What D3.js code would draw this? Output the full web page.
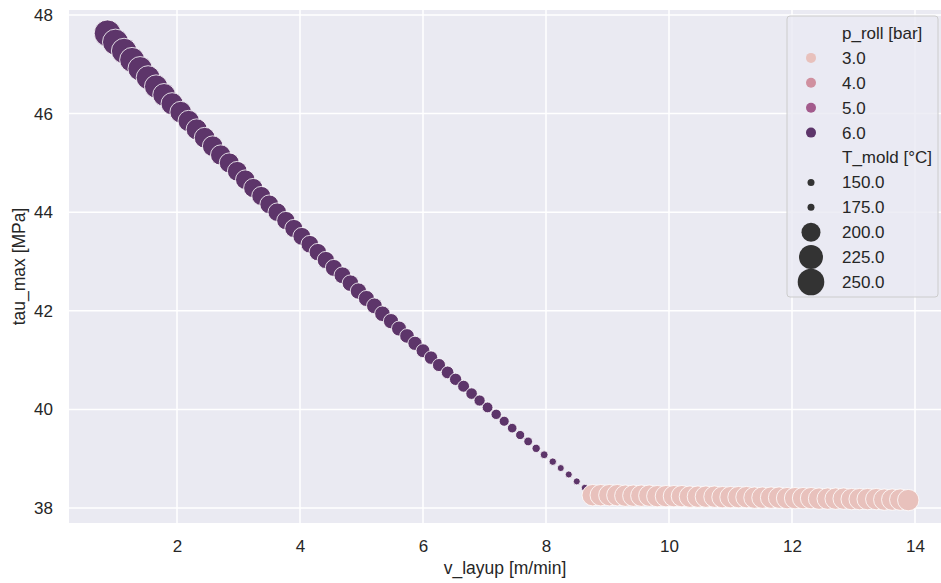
<!DOCTYPE html>
<html>
<head>
<meta charset="utf-8">
<script src="https://cdn.jsdelivr.net/npm/d3@7"></script>
<style>
  body { margin: 0; background: #fff; }
  svg text { font-family: "Liberation Sans", Arial, sans-serif; fill: #262626; }
</style>
</head>
<body>
<svg id="chart" width="941" height="583"></svg>
<script>
// optimum per layup speed
var vLayup = [0.87,1.00,1.14,1.27,1.40,1.53,1.66,1.79,1.92,2.06,
    2.19,2.32,2.45,2.58,2.71,2.85,2.98,3.11,3.24,3.37,
    3.50,3.63,3.77,3.90,4.03,4.16,4.29,4.42,4.55,4.69,
    4.82,4.95,5.08,5.21,5.34,5.48,5.61,5.74,5.87,6.00,
    6.13,6.26,6.40,6.53,6.66,6.79,6.92,7.05,7.19,7.32,
    7.45,7.58,7.71,7.84,7.97,8.11,8.24,8.37,8.50,8.63,
    8.76,8.89,9.03,9.16,9.29,9.42,9.55,9.68,9.81,9.95,
    10.08,10.21,10.34,10.47,10.60,10.74,10.87,11.00,11.13,11.26,
    11.39,11.52,11.66,11.79,11.92,12.05,12.18,12.31,12.44,12.58,
    12.71,12.84,12.97,13.10,13.23,13.37,13.50,13.63,13.76,13.89];

var tauMax = [47.63,47.45,47.27,47.09,46.91,46.73,46.55,46.38,46.20,46.03,
    45.85,45.68,45.51,45.34,45.16,45.00,44.83,44.66,44.49,44.33,
    44.16,44.00,43.83,43.67,43.51,43.35,43.19,43.03,42.87,42.72,
    42.56,42.40,42.25,42.10,41.94,41.79,41.64,41.49,41.34,41.19,
    41.05,40.90,40.75,40.61,40.47,40.32,40.18,40.04,39.90,39.76,
    39.62,39.48,39.35,39.21,39.08,38.94,38.81,38.68,38.54,38.41,
    38.26,38.26,38.26,38.26,38.25,38.25,38.25,38.25,38.24,38.24,
    38.24,38.24,38.23,38.23,38.23,38.23,38.22,38.22,38.22,38.22,
    38.21,38.21,38.21,38.21,38.20,38.20,38.20,38.20,38.19,38.19,
    38.19,38.19,38.18,38.18,38.18,38.18,38.17,38.17,38.17,38.16];

var pRoll = [6,6,6,6,6,6,6,6,6,6, 6,6,6,6,6,6,6,6,6,6,
    6,6,6,6,6,6,6,6,6,6, 6,6,6,6,6,6,6,6,6,6,
    6,6,6,6,6,6,6,6,6,6, 6,6,6,6,6,6,6,6,6,6,
    3,3,3,3,3,3,3,3,3,3, 3,3,3,3,3,3,3,3,3,3,
    3,3,3,3,3,3,3,3,3,3, 3,3,3,3,3,3,3,3,3,3];

var tMold = [250.0,244.6,239.2,234.0,228.7,224.1,221.3,218.6,215.8,213.0,
    211.7,210.4,209.1,207.8,206.5,205.2,203.9,202.6,201.3,200.0,
    199.5,199.1,198.6,198.2,197.7,197.3,196.8,196.4,195.9,195.5,
    195.0,194.5,193.9,193.3,192.8,192.2,191.7,190.9,190.1,189.3,
    188.5,187.7,186.9,186.0,185.3,184.5,183.7,182.8,182.0,181.3,
    180.4,179.5,178.6,177.7,176.8,175.9,175.0,175.0,175.0,175.0,
    212,212,212,212,212,212,212,212,212,212,
    212,212,212,212,212,212,212,212,212,212,
    212,212,212,212,212,212,212,212,212,212,
    212,212,212,212,212,212,212,212,212,212];

var hueLevels = [3.0, 4.0, 5.0, 6.0];
var hueColors = ["#e8c1bc", "#d0909f", "#a35b8c", "#5d356a"];
var sizeLevels = [150.0, 175.0, 200.0, 225.0, 250.0];
var xTicks = [2, 4, 6, 8, 10, 12, 14];
var yTicks = [38, 40, 42, 44, 46, 48];

var svg = d3.select('#chart');
var plot = {left: 69, top: 10, right: 941, bottom: 523};

var x = d3.scaleLinear().domain([2, 14]).range([177, 915]);
var y = d3.scaleLinear().domain([38, 48]).range([508, 15]);
var color = d3.scaleLinear().domain(hueLevels).range(hueColors);
var radius = d3.scaleLinear()
    .domain([175, 200, 225, 250])
    .range([3.5, 9.5, 12, 13.3])
    .clamp(true);
var fmt = d3.format('.1f');

svg.append('rect')
    .attr('x', plot.left)
    .attr('y', plot.top)
    .attr('width', plot.right - plot.left)
    .attr('height', plot.bottom - plot.top)
    .attr('fill', '#eaeaf2');

var grid = svg.append('g').attr('stroke', '#fff').attr('stroke-width', 1.5);
grid.selectAll('line.gx')
    .data(xTicks)
    .enter().append('line')
    .attr('class', 'gx')
    .attr('x1', function(d) { return x(d); })
    .attr('x2', function(d) { return x(d); })
    .attr('y1', plot.top)
    .attr('y2', plot.bottom);
grid.selectAll('line.gy')
    .data(yTicks)
    .enter().append('line')
    .attr('class', 'gy')
    .attr('y1', function(d) { return y(d); })
    .attr('y2', function(d) { return y(d); })
    .attr('x1', plot.left)
    .attr('x2', plot.right);

// axes (no tick marks, seaborn darkgrid)
var xAxis = svg.append('g')
    .attr('transform', 'translate(0,' + plot.bottom + ')')
    .call(d3.axisBottom(x).tickValues(xTicks).tickSize(0).tickPadding(17).tickFormat(d3.format('d')));
var yAxis = svg.append('g')
    .attr('transform', 'translate(' + plot.left + ',0)')
    .call(d3.axisLeft(y).tickValues(yTicks).tickSize(0).tickPadding(16).tickFormat(d3.format('d')));
svg.selectAll('.domain').remove();
svg.selectAll('.tick text')
    .attr('font-size', 17)
    .attr('font-family', null)
    .attr('fill', '#262626');

svg.append('text')
    .attr('x', (plot.left + plot.right) / 2)
    .attr('y', 574)
    .attr('text-anchor', 'middle')
    .attr('font-size', 17.5)
    .text('v_layup [m/min]');

svg.append('text')
    .attr('transform', 'translate(25,' + (plot.top + plot.bottom) / 2 + ') rotate(-90)')
    .attr('text-anchor', 'middle')
    .attr('font-size', 17.5)
    .text('tau_max [MPa]');

// points, drawn in data order so later ones sit on top
svg.append('defs').append('clipPath')
    .attr('id', 'clip')
    .append('rect')
    .attr('x', plot.left).attr('y', plot.top)
    .attr('width', plot.right - plot.left)
    .attr('height', plot.bottom - plot.top);

svg.append('g')
    .attr('clip-path', 'url(#clip)')
    .selectAll('circle')
    .data(d3.range(vLayup.length))
    .enter().append('circle')
    .attr('cx', function(i) { return x(vLayup[i]); })
    .attr('cy', function(i) { return y(tauMax[i]); })
    .attr('r', function(i) { return radius(tMold[i]); })
    .attr('fill', function(i) { return color(pRoll[i]); })
    .attr('stroke', '#fff')
    .attr('stroke-width', 0.8);

// legend
var entries = [{label: 'p_roll [bar]'}];
hueLevels.forEach(function(h) { entries.push({label: fmt(h), fill: color(h), r: 5}); });
entries.push({label: 'T_mold [°C]'});
sizeLevels.forEach(function(s) { entries.push({label: fmt(s), fill: '#333333', r: radius(s)}); });

var legend = svg.append('g');
legend.append('rect')
    .attr('x', 787)
    .attr('y', 16)
    .attr('width', 151)
    .attr('height', 281)
    .attr('rx', 3)
    .attr('fill', '#eaeaf2')
    .attr('fill-opacity', 0.8)
    .attr('stroke', '#cccccc')
    .attr('stroke-width', 1);

var row = legend.selectAll('g.entry')
    .data(entries)
    .enter().append('g')
    .attr('class', 'entry')
    .attr('transform', function(d, i) { return 'translate(0,' + (33 + i * 24.9) + ')'; });

row.filter(function(d) { return d.r; })
    .append('circle')
    .attr('cx', 811)
    .attr('r', function(d) { return d.r; })
    .attr('fill', function(d) { return d.fill; });

row.append('text')
    .attr('x', 842)
    .attr('dy', '0.35em')
    .attr('font-size', 17)
    .text(function(d) { return d.label; });
</script>
</body>
</html>
